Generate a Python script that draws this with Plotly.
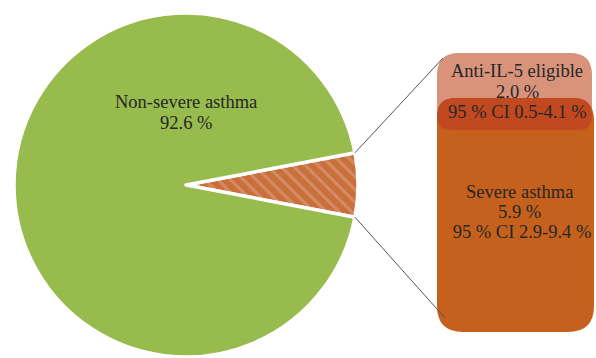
import math
import plotly.graph_objects as go

# ---- data ----
labels = ["Severe asthma", "Non-severe asthma"]
values = [5.9, 92.6]
severe_ci = "95 % CI 2.9-9.4 %"
anti_label = "Anti-IL-5 eligible"
anti_value = 2.0
anti_ci = "95 % CI 0.5-4.1 %"

W, H = 596, 358
def X(px):
    return px / W
def Y(py):
    return 1 - py / H

# pie geometry (pixels)
cx, cy, r = 186, 185, 172
frac = values[0] / sum(values)
rotation = 90 - frac * 360 / 2

fig = go.Figure()
fig.add_trace(go.Pie(
    labels=labels,
    values=values,
    sort=False,
    direction="clockwise",
    rotation=rotation,
    textinfo="none",
    hoverinfo="skip",
    showlegend=False,
    domain=dict(x=[X(cx - r), X(cx + r)], y=[Y(cy + r), Y(cy - r)]),
    marker=dict(
        colors=["#c87037", "#97bb4c"],
        line=dict(color="white", width=3.5),
        pattern=dict(shape=["\\", ""], fgcolor="#e2a49e", bgcolor=["#c87037", "#97bb4c"],
                     size=9, solidity=0.35, fillmode="overlay"),
    ),
))

def rrect(x0, y0, x1, y1, rt, rb):
    pts = [
        ("M", [(x0 + rt, y0)]),
        ("L", [(x1 - rt, y0)]),
        ("Q", [(x1, y0), (x1, y0 + rt)]),
        ("L", [(x1, y1 - rb)]),
        ("Q", [(x1, y1), (x1 - rb, y1)]),
        ("L", [(x0 + rb, y1)]),
        ("Q", [(x0, y1), (x0, y1 - rb)]),
        ("L", [(x0, y0 + rt)]),
        ("Q", [(x0, y0), (x0 + rt, y0)]),
    ]
    s = ""
    for cmd, ps in pts:
        s += cmd + " ".join(f"{X(px):.5f},{Y(py):.5f}" for px, py in ps) + " "
    return s + "Z"

shapes = []
shapes.append(dict(type="path", xref="paper", yref="paper", path=rrect(437, 53, 592, 130, 22, 20),
                   fillcolor="#d9937b", line=dict(width=0), layer="above"))
shapes.append(dict(type="path", xref="paper", yref="paper", path=rrect(437, 98, 594, 332, 22, 26),
                   fillcolor="#c5611d", line=dict(width=0), layer="above"))
shapes.append(dict(type="path", xref="paper", yref="paper", path=rrect(437, 98, 592, 130, 18, 14),
                   fillcolor="#c2491f", line=dict(width=0), layer="above"))

a0 = math.radians(rotation)
a1 = math.radians(rotation + frac * 360)
p0 = (cx + r * math.sin(a0), cy - r * math.cos(a0))
p1 = (cx + r * math.sin(a1), cy - r * math.cos(a1))
for (sx, sy), (ex, ey) in [(p0, (443, 58)), (p1, (445, 318))]:
    shapes.append(dict(type="line", xref="paper", yref="paper",
                       x0=X(sx), y0=Y(sy), x1=X(ex), y1=Y(ey),
                       line=dict(color="#555555", width=1), layer="above"))

font = dict(family="Liberation Serif, Times New Roman, serif", size=18.5, color="#262626")
blocks = [
    (186, [102, 123], [labels[1], f"{values[1]:.1f} %"]),
    (517, [71, 92, 112], [anti_label, f"{anti_value:.1f} %", anti_ci]),
    (519, [192, 212, 232], [labels[0], f"{values[0]:.1f} %", " " + severe_ci]),
]
annotations = []
for bx, ys, lines in blocks:
    for yy, t in zip(ys, lines):
        annotations.append(dict(x=X(bx), y=Y(yy), text=t, xref="paper", yref="paper",
                                showarrow=False, xanchor="center", yanchor="middle",
                                font=font, align="center"))

fig.update_layout(
    width=W, height=H,
    margin=dict(l=0, r=0, t=0, b=0),
    paper_bgcolor="white", plot_bgcolor="white",
    shapes=shapes, annotations=annotations,
)
fig.write_html("out.html")
